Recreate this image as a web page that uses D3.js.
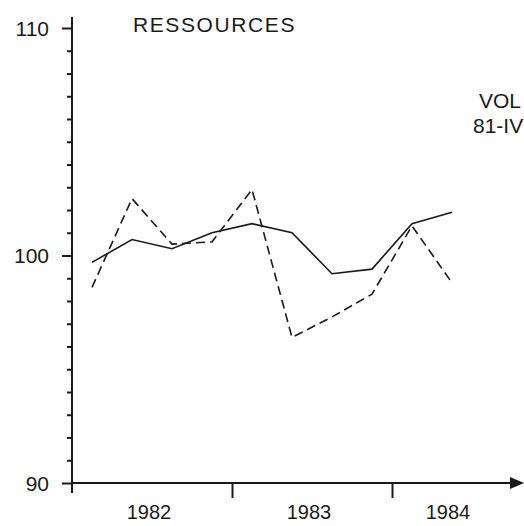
<!DOCTYPE html>
<html>
<head>
<meta charset="utf-8">
<script src="https://cdn.jsdelivr.net/npm/d3@7"></script>
<style>
  html, body { margin: 0; padding: 0; background: #fff; overflow: hidden; }
  svg { display: block; }
  text { font-family: "Liberation Sans", Arial, Helvetica, sans-serif; fill: #1a1a1a; }
</style>
</head>
<body>
<svg id="chart" width="524" height="526"></svg>
<script>
// ---- data ----
const quarters = ["1982-I","1982-II","1982-III","1982-IV","1983-I","1983-II","1983-III","1983-IV","1984-I","1984-II"];
const quarterPos = [1982.125,1982.375,1982.625,1982.875,1983.125,1983.375,1983.625,1983.875,1984.125,1984.375];
const solidSeries  = [99.7, 100.7, 100.3, 101.0, 101.4, 101.0, 99.2, 99.4, 101.4, 101.9];
const dashedSeries = [98.6, 102.5, 100.5, 100.6, 102.9, 96.4, 97.3, 98.3, 101.3, 98.8];
const years = [1982, 1983, 1984];
const yTickLabels = [90, 100, 110];
const title = "RESSOURCES";
const sideNote = ["VOL", "81-IV"];

// ---- layout ----
const svg = d3.select("#chart");
const x0 = 72, yBase = 483, arrowTip = 524, arrowBase = 510;
const x = d3.scaleLinear().domain([1982, 1985]).range([x0, x0 + 480]);
const y = d3.scaleLinear().domain([90, 110]).range([yBase, 28]);
const ink = "#1a1a1a";

// y axis with minor ticks (every unit), ticks pointing left
const yAxis = d3.axisLeft(y).tickValues(d3.range(90, 111, 1)).tickSize(5).tickFormat("");
const gy = svg.append("g").attr("transform", `translate(${x0},0)`).call(yAxis);
gy.select(".domain").remove();
gy.selectAll(".tick line").attr("stroke", ink).attr("stroke-width", 2)
  .attr("x2", d => yTickLabels.includes(d) ? -10 : -5);
// y axis line
svg.append("line").attr("x1", x0).attr("x2", x0).attr("y1", 17).attr("y2", yBase + 10)
  .attr("stroke", ink).attr("stroke-width", 2);
// y labels
svg.selectAll("text.ylab").data(yTickLabels).join("text").attr("class", "ylab")
  .attr("x", 49).attr("y", d => y(d)).attr("dy", "0.36em")
  .attr("text-anchor", "end").attr("font-size", 21).text(d => d);

// x axis
svg.append("line").attr("x1", x0).attr("x2", arrowBase).attr("y1", yBase).attr("y2", yBase)
  .attr("stroke", ink).attr("stroke-width", 2);
svg.append("path")
  .attr("d", `M${arrowBase},${yBase - 6}L${arrowTip},${yBase}L${arrowBase},${yBase + 6}Z`)
  .attr("fill", ink);
const xAxis = d3.axisBottom(x).tickValues(years.slice(1)).tickSize(15).tickFormat("");
const gx = svg.append("g").attr("transform", `translate(0,${yBase})`).call(xAxis);
gx.select(".domain").remove();
gx.selectAll(".tick line").attr("stroke", ink).attr("stroke-width", 2);
// year labels centered in each year's span
svg.selectAll("text.xlab").data(years).join("text").attr("class", "xlab")
  .attr("x", d => (x(d) + Math.min(x(d + 1), arrowBase)) / 2 - 3)
  .attr("y", 519).attr("text-anchor", "middle").attr("font-size", 20).text(d => d);

// lines
const lineGen = vals => d3.line().x((d, i) => x(quarterPos[i])).y(d => y(d))(vals);
svg.append("path").attr("d", lineGen(dashedSeries)).attr("fill", "none")
  .attr("stroke", ink).attr("stroke-width", 1.6).attr("stroke-dasharray", "9,5");
svg.append("path").attr("d", lineGen(solidSeries)).attr("fill", "none")
  .attr("stroke", ink).attr("stroke-width", 1.6);

// texts
svg.append("text").attr("x", 133).attr("y", 32).attr("font-size", 21)
  .attr("letter-spacing", 1.6).text(title);
svg.append("text").attr("x", 479).attr("y", 108).attr("font-size", 21).text(sideNote[0]);
svg.append("text").attr("x", 473).attr("y", 133).attr("font-size", 21).text(sideNote[1]);
</script>
</body>
</html>
